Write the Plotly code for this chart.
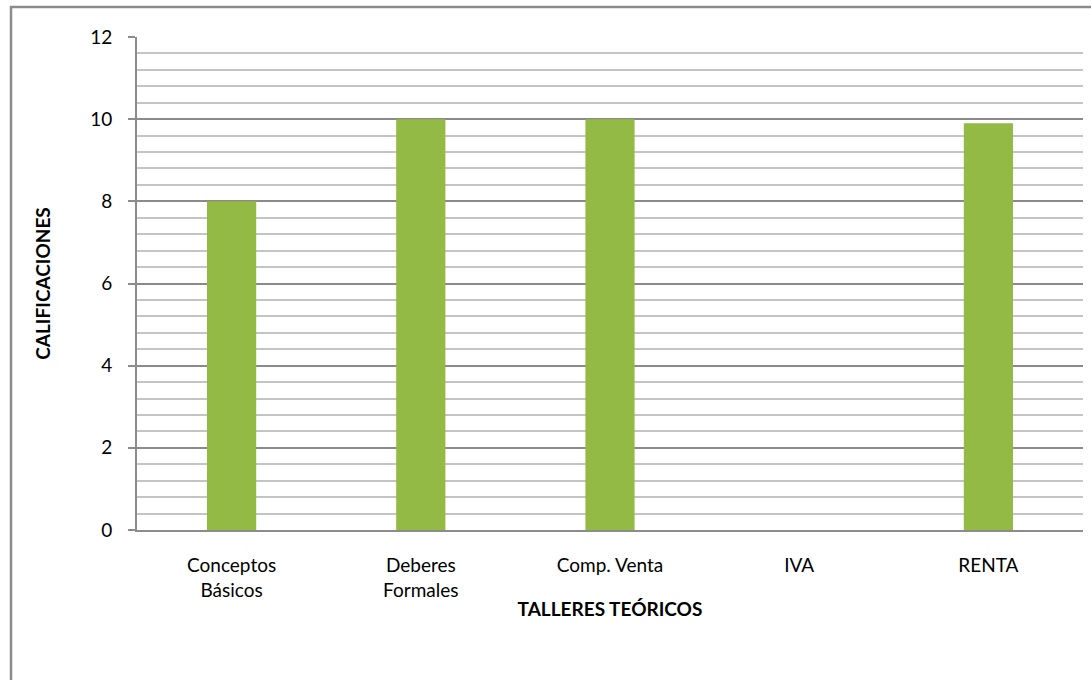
import plotly.graph_objects as go

categories = ["Conceptos<br>Básicos", "Deberes<br>Formales", "Comp. Venta", "IVA", "RENTA"]
calificaciones = [8, 10, 10, 0, 9.9]
y_ticks = [0, 2, 4, 6, 8, 10, 12]

FONT = "Lato, 'Open Sans', sans-serif"
L, R, T, B = 137, 8, 37, 150
PW, PH = 1091 - L - R, 680 - T - B

fig = go.Figure()
fig.add_trace(go.Bar(
    x=categories,
    y=calificaciones,
    width=0.26,
    marker=dict(color="#93ba45", line=dict(width=0)),
))

fig.update_layout(
    width=1091, height=680,
    margin=dict(l=L, r=R, t=T, b=B),
    paper_bgcolor="white", plot_bgcolor="white",
    showlegend=False,
    font=dict(family=FONT, size=19, color="black"),
    xaxis=dict(
        showline=True, linecolor="#8c8c8c", linewidth=2,
        ticks="", showgrid=False,
        title=dict(text="<b>TALLERES TEÓRICOS</b>", font=dict(size=19), standoff=3),
        ticklabelstandoff=17,
    ),
    yaxis=dict(
        range=[0, 12], tickvals=y_ticks,
        showline=True, linecolor="#8c8c8c", linewidth=2,
        ticks="outside", ticklen=7, tickcolor="#8c8c8c", tickwidth=2,
        showgrid=True, gridcolor="#8a8a8a", gridwidth=1.5,
        minor=dict(tick0=0, dtick=0.4, showgrid=True, gridcolor="#c4c4c4", gridwidth=1.5, ticks=""),
        zeroline=False,
        title=dict(text="<b>CALIFICACIONES</b>", font=dict(size=19), standoff=35),
        ticklabelstandoff=12,
    ),
    shapes=[dict(type="rect", xref="paper", yref="paper",
                 x0=(11 - L) / PW, x1=1.2, y0=-1.0, y1=(680 - B - 7) / PH,
                 line=dict(color="#8c8c8c", width=2.5), layer="below")],
)

fig.write_html("out.html", config={"displayModeBar": False},
               post_script="document.body.style.margin='0';")
